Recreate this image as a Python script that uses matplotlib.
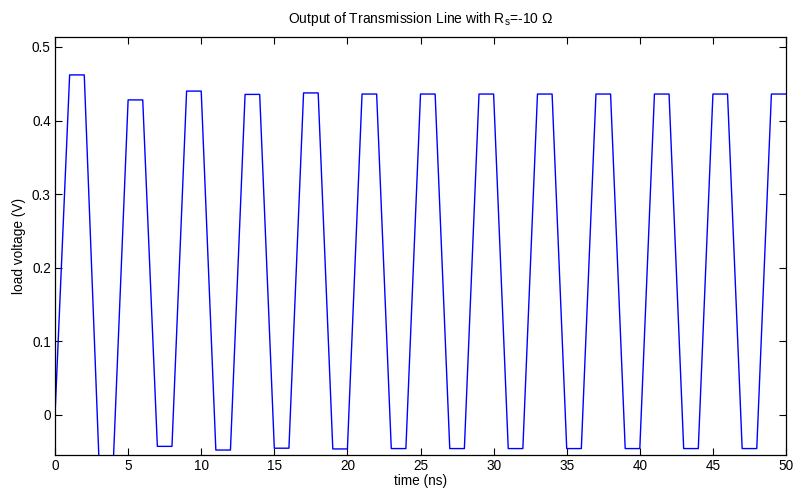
import numpy as np
import matplotlib
matplotlib.use("Agg")
import matplotlib.pyplot as plt

plt.rcParams["font.family"] = ["Liberation Sans", "DejaVu Sans"]
plt.rcParams["mathtext.fontset"] = "custom"
plt.rcParams["mathtext.rm"] = "Liberation Sans"

# time samples (ns) and load voltage (V)
time_ns = list(range(0, 51))
load_v = [0.0,
          0.462, 0.462, -0.058, -0.058,
          0.428, 0.428, -0.043, -0.043,
          0.440, 0.440, -0.048, -0.048,
          0.4355, 0.4355, -0.0455, -0.0455,
          0.4375, 0.4375, -0.0465, -0.0465,
          0.436, 0.436, -0.046, -0.046,
          0.436, 0.436, -0.046, -0.046,
          0.436, 0.436, -0.046, -0.046,
          0.436, 0.436, -0.046, -0.046,
          0.436, 0.436, -0.046, -0.046,
          0.436, 0.436, -0.046, -0.046,
          0.436, 0.436, -0.046, -0.046,
          0.436, 0.436]

xticks = [0, 5, 10, 15, 20, 25, 30, 35, 40, 45, 50]
yticks = [0, 0.1, 0.2, 0.3, 0.4, 0.5]
ytick_labels = ["0", "0.1", "0.2", "0.3", "0.4", "0.5"]

fig = plt.figure(figsize=(7.95, 4.94), dpi=100)
ax = fig.add_axes([0.0692, 0.0796, 0.9195, 0.845])
ax.plot(time_ns, load_v, color="#0000ff", lw=1.0)

ax.set_xlim(0, 50)
ax.set_ylim(-0.0543, 0.5132)
ax.set_xticks(xticks)
ax.set_xticklabels([str(x) for x in xticks])
ax.set_yticks(yticks)
ax.set_yticklabels(ytick_labels)
ax.tick_params(direction="in", length=5, width=0.8, top=True, right=True,
               labelsize=9.8, pad=3)
for s in ax.spines.values():
    s.set_linewidth(0.9)

ax.set_xlabel("time (ns)", fontsize=9.8, labelpad=1)
ax.set_ylabel("load voltage (V)", fontsize=9.8, labelpad=4)
ax.set_title(r"Output of Transmission Line with R$_\mathrm{s}$=-10 Ω",
             fontsize=10, pad=10)

fig.savefig("out.png", dpi=100)
